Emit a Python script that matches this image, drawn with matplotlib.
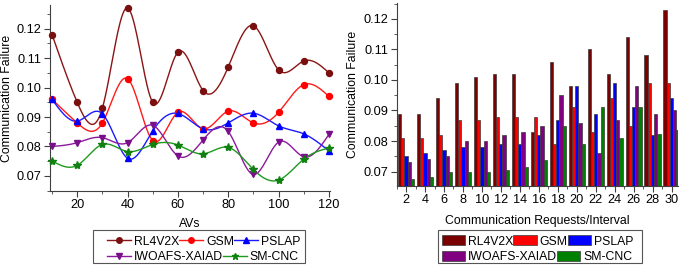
import numpy as np
import matplotlib
matplotlib.use('Agg')
import matplotlib.pyplot as plt
from matplotlib.lines import Line2D
from matplotlib.patches import Patch, Rectangle
from matplotlib.ticker import MultipleLocator

plt.rcParams['font.family'] = ['Liberation Sans', 'DejaVu Sans']

# ---- data ----
names = ['RL4V2X', 'GSM', 'PSLAP', 'IWOAFS-XAIAD', 'SM-CNC']

avs = [10, 20, 30, 40, 50, 60, 70, 80, 90, 100, 110, 120]
rl4v2x_av = [0.118, 0.095, 0.093, 0.127, 0.095, 0.112, 0.099, 0.107, 0.121, 0.106, 0.109, 0.105]
gsm_av = [0.096, 0.088, 0.088, 0.103, 0.082, 0.0916, 0.086, 0.092, 0.088, 0.0916, 0.101, 0.097]
pslap_av = [0.096, 0.0886, 0.0911, 0.076, 0.0853, 0.0912, 0.086, 0.088, 0.0913, 0.087, 0.0843, 0.0785]
iwoafs_av = [0.080, 0.0813, 0.083, 0.0813, 0.0872, 0.0768, 0.0822, 0.0851, 0.0705, 0.0815, 0.0765, 0.0841]
smcnc_av = [0.0751, 0.0736, 0.0807, 0.0783, 0.0807, 0.0805, 0.0775, 0.0797, 0.0722, 0.0686, 0.0757, 0.0795]

requests = [2, 4, 6, 8, 10, 12, 14, 16, 18, 20, 22, 24, 26, 28, 30]
rl4v2x_rq = [0.089, 0.089, 0.094, 0.099, 0.101, 0.102, 0.102, 0.083, 0.106, 0.098, 0.110, 0.102, 0.114, 0.108, 0.123]
gsm_rq = [0.081, 0.081, 0.082, 0.087, 0.087, 0.088, 0.088, 0.088, 0.079, 0.091, 0.083, 0.094, 0.085, 0.099, 0.099]
pslap_rq = [0.075, 0.076, 0.077, 0.078, 0.078, 0.079, 0.079, 0.082, 0.087, 0.098, 0.089, 0.099, 0.091, 0.082, 0.094]
iwoafs_rq = [0.073, 0.074, 0.075, 0.080, 0.080, 0.082, 0.083, 0.085, 0.095, 0.086, 0.076, 0.087, 0.098, 0.089, 0.090]
smcnc_rq = [0.0676, 0.0681, 0.0697, 0.070, 0.070, 0.0704, 0.0716, 0.0738, 0.085, 0.079, 0.091, 0.081, 0.091, 0.0824, 0.0837]

line_cols = ['#8b1414', '#ff1a1a', '#1a1aff', '#8b1a9b', '#1f9a1f']
mk_cols = ['#7a0f0f', '#ff0000', '#0000ff', '#7a0f8a', '#108010']
markers = ['o', 'o', '^', 'v', '*']
bar_cols = ['#7b0000', '#ff0000', '#0000ff', '#800080', '#008000']


def spline(x, y, n=400):
    # natural cubic spline, only for drawing the smooth connecting curve
    x = np.asarray(x, float)
    y = np.asarray(y, float)
    k = len(x)
    h = np.diff(x)
    A = np.zeros((k, k))
    b = np.zeros(k)
    A[0, 0] = A[-1, -1] = 1
    for i in range(1, k - 1):
        A[i, i - 1] = h[i - 1]
        A[i, i] = 2 * (h[i - 1] + h[i])
        A[i, i + 1] = h[i]
        b[i] = 6 * ((y[i + 1] - y[i]) / h[i] - (y[i] - y[i - 1]) / h[i - 1])
    M = np.linalg.solve(A, b)
    xs = np.linspace(x[0], x[-1], n)
    idx = np.clip(np.searchsorted(x, xs) - 1, 0, k - 2)
    x0, x1 = x[idx], x[idx + 1]
    hh = x1 - x0
    t0 = x1 - xs
    t1 = xs - x0
    ys = (M[idx] * t0**3 + M[idx + 1] * t1**3) / (6 * hh) \
        + (y[idx] / hh - M[idx] * hh / 6) * t0 \
        + (y[idx + 1] / hh - M[idx + 1] * hh / 6) * t1
    return xs, ys


fig = plt.figure(figsize=(6.85, 2.66), dpi=100)
ax1 = fig.add_axes([0.073, 0.282, 0.409, 0.699])
ax2 = fig.add_axes([0.579, 0.301, 0.411, 0.688])

tick_fs = 9.2
lab_fs = 8.8

# ---- left: line chart ----
series_av = [rl4v2x_av, gsm_av, pslap_av, iwoafs_av, smcnc_av]
for i, ys in enumerate(series_av):
    sx, sy = spline(avs, ys)
    ax1.plot(sx, sy, color=line_cols[i], lw=1.0, clip_on=False)
    ms = 6 if markers[i] == '*' else 4.3
    ax1.plot(avs, ys, ls='none', marker=markers[i], color=mk_cols[i], ms=ms,
             mec=mk_cols[i], clip_on=False, zorder=3)

ax1.set_xlim(9.2, 120.5)
ax1.set_ylim(0.0649, 0.128)
ax1.xaxis.set_major_locator(MultipleLocator(20))
ax1.xaxis.set_minor_locator(MultipleLocator(10))
ax1.yaxis.set_major_locator(MultipleLocator(0.01))
ax1.yaxis.set_minor_locator(MultipleLocator(0.005))
ax1.yaxis.set_major_formatter(plt.FormatStrFormatter('%.2f'))
ax1.set_xlabel('AVs', fontsize=lab_fs, labelpad=5)
ax1.set_ylabel('Communication Failure', fontsize=lab_fs, labelpad=3)

# ---- right: grouped bars ----
series_rq = [rl4v2x_rq, gsm_rq, pslap_rq, iwoafs_rq, smcnc_rq]
bw = 0.34
xr = np.array(requests, float)
for i, ys in enumerate(series_rq):
    ax2.bar(xr + (i - 2) * bw, ys, width=bw, color=bar_cols[i],
            edgecolor='#3a3a3a', linewidth=0.5)

ax2.set_xlim(1.0, 30.7)
ax2.set_ylim(0.0653, 0.1252)
ax2.set_xticks(requests)
ax2.xaxis.set_minor_locator(MultipleLocator(1))
ax2.yaxis.set_major_locator(MultipleLocator(0.01))
ax2.yaxis.set_minor_locator(MultipleLocator(0.005))
ax2.yaxis.set_major_formatter(plt.FormatStrFormatter('%.2f'))
ax2.set_xlabel('Communication Requests/Interval', fontsize=lab_fs, labelpad=6)
ax2.set_ylabel('Communication Failure', fontsize=lab_fs, labelpad=3)

for ax in (ax1, ax2):
    for s in ('top', 'right'):
        ax.spines[s].set_visible(False)
    for s in ('left', 'bottom'):
        ax.spines[s].set_color('#404040')
        ax.spines[s].set_linewidth(0.8)
    ax.tick_params(which='major', length=4, width=0.8, color='#404040',
                   labelsize=tick_fs, pad=2)
    ax.tick_params(which='minor', length=2, width=0.6, color='#404040')

# ---- legends (two flowing rows inside a box) ----
line_handles = []
for i in range(5):
    ms = 5 if markers[i] == '*' else 4
    line_handles.append(Line2D([], [], color=line_cols[i], lw=1.0, marker=markers[i],
                               ms=ms, mfc=mk_cols[i], mec=mk_cols[i]))
bar_handles = [Patch(facecolor=bar_cols[i], edgecolor='#3a3a3a', linewidth=0.5)
               for i in range(5)]

leg_kw = dict(frameon=False, borderpad=0, borderaxespad=0, columnspacing=0,
              fontsize=lab_fs, loc='center left')

fig.legend(line_handles[:3], names[:3], ncol=3, bbox_to_anchor=(0.156, 0.092),
           handlelength=2.0, handletextpad=0.2, **leg_kw)
fig.legend(line_handles[3:], names[3:], ncol=2, bbox_to_anchor=(0.156, 0.034),
           handlelength=2.0, handletextpad=0.2, **leg_kw)
fig.patches.append(Rectangle((0.136, 0.011), 0.309, 0.124, transform=fig.transFigure,
                             fill=False, edgecolor='#555555', linewidth=0.8))

fig.legend(bar_handles[:3], names[:3], ncol=3, bbox_to_anchor=(0.645, 0.092),
           handlelength=1.9, handleheight=0.85, handletextpad=0.25, **leg_kw)
fig.legend(bar_handles[3:], names[3:], ncol=2, bbox_to_anchor=(0.645, 0.034),
           handlelength=1.9, handleheight=0.85, handletextpad=0.25, **leg_kw)
fig.patches.append(Rectangle((0.639, 0.011), 0.298, 0.124, transform=fig.transFigure,
                             fill=False, edgecolor='#555555', linewidth=0.8))

fig.savefig('out.png', dpi=100)
